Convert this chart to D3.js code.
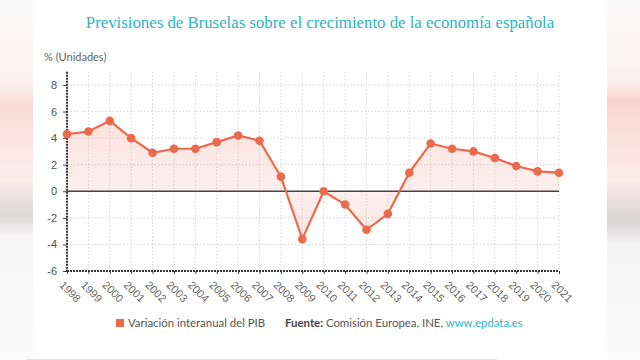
<!DOCTYPE html>
<html>
<head>
<meta charset="utf-8">
<script src="https://cdn.jsdelivr.net/npm/d3@7"></script>
<style>
  body { margin: 0; background: #fff; }
  svg { display: block; font-family: Lato, "Open Sans", sans-serif; }
</style>
</head>
<body>
<svg width="640" height="360"></svg>
<script>
// data
var years = [1998, 1999, 2000, 2001, 2002, 2003, 2004, 2005, 2006, 2007, 2008, 2009,
             2010, 2011, 2012, 2013, 2014, 2015, 2016, 2017, 2018, 2019, 2020, 2021];
var pib = [4.3, 4.5, 5.3, 4.0, 2.9, 3.2, 3.2, 3.7, 4.2, 3.8, 1.1, -3.6,
           0.0, -1.0, -2.9, -1.7, 1.4, 3.6, 3.2, 3.0, 2.5, 1.9, 1.5, 1.4];
var yTicks = [-6, -4, -2, 0, 2, 4, 6, 8];

var data = years.map((y, i) => ({year: y, v: pib[i]}));

var svg = d3.select('svg');
var lineColor = '#ec6a4c';
var teal = '#2bb5c9';

// blurred side strips (video frame)
var defs = svg.append('defs');
function sideGrad(id, stops) {
  var g = defs.append('linearGradient').attr('id', id)
    .attr('x1', 0).attr('y1', 0).attr('x2', 0).attr('y2', 1);
  stops.forEach(s => g.append('stop').attr('offset', s[0]).attr('stop-color', s[1]));
}
sideGrad('gl', [[0, '#fbfbfb'], [0.22, '#fbf3f2'], [0.3, '#f9d9d3'], [0.36, '#fbe3df'],
  [0.5, '#fcedea'], [0.55, '#e9e0e0'], [0.6, '#dedada'], [0.66, '#f6f6f6'], [1, '#fbfbfb']]);
sideGrad('gr', [[0, '#fbfbfb'], [0.22, '#fbf1ef'], [0.28, '#f8d6d0'], [0.35, '#fadcd6'],
  [0.5, '#fcebe8'], [0.56, '#e8dddd'], [0.62, '#d9d6d6'], [0.68, '#f4f4f4'], [1, '#fbfbfb']]);
svg.append('rect').attr('x', 0).attr('y', 0).attr('width', 33).attr('height', 360).attr('fill', 'url(#gl)');
svg.append('rect').attr('x', 607).attr('y', 0).attr('width', 33).attr('height', 360).attr('fill', 'url(#gr)');
svg.append('line').attr('x1', 26).attr('x2', 497).attr('y1', 359.5).attr('y2', 359.5)
  .attr('stroke', '#e4e4e4').attr('stroke-width', 1);

// title
svg.append('text').attr('x', 320).attr('y', 28).attr('text-anchor', 'middle')
  .style('font-family', '"Liberation Serif", "DejaVu Serif", serif')
  .style('font-size', '16.8px').attr('fill', teal)
  .text('Previsiones de Bruselas sobre el crecimiento de la economía española');

svg.append('text').attr('x', 44).attr('y', 61)
  .style('font-size', '11px').attr('fill', '#666').text('% (Unidades)');

var x = d3.scalePoint().domain(years).range([67, 559]);
var y = d3.scaleLinear().domain([-6, 9]).range([271, 71.7]);

// grid
var grid = svg.append('g');
grid.selectAll('.vg').data(years.slice(1)).join('line')
  .attr('x1', d => x(d)).attr('x2', d => x(d)).attr('y1', y(9)).attr('y2', y(-6))
  .attr('stroke', '#d4d4d4').attr('stroke-dasharray', '1.5,2').attr('stroke-width', 1);
grid.selectAll('.hg').data(yTicks.filter(d => d !== 0 && d !== -6)).join('line')
  .attr('x1', x(1998)).attr('x2', x(2021)).attr('y1', d => y(d)).attr('y2', d => y(d))
  .attr('stroke', '#d4d4d4').attr('stroke-dasharray', '1.5,2').attr('stroke-width', 1);

// area between the line and zero
var ag = defs.append('linearGradient').attr('id', 'ag')
  .attr('gradientUnits', 'userSpaceOnUse')
  .attr('x1', 0).attr('y1', y(6)).attr('x2', 0).attr('y2', y(-4));
ag.append('stop').attr('offset', 0).attr('stop-color', '#f5a89a').attr('stop-opacity', 0.35);
ag.append('stop').attr('offset', 0.6).attr('stop-color', '#f5a89a').attr('stop-opacity', 0.18);
ag.append('stop').attr('offset', 1).attr('stop-color', '#f5a89a').attr('stop-opacity', 0.3);

svg.append('path').datum(data)
  .attr('d', d3.area().x(d => x(d.year)).y0(y(0)).y1(d => y(d.v)))
  .attr('fill', 'url(#ag)');

// axes
var yAxis = svg.append('g').attr('transform', 'translate(' + x(1998) + ',0)')
  .call(d3.axisLeft(y).tickValues(yTicks).tickFormat(d => String(d)).tickSize(4).tickPadding(6));
yAxis.select('.domain').remove();
yAxis.selectAll('.tick line').attr('stroke', '#444');
yAxis.selectAll('text').style('font-size', '11px').attr('fill', '#555');

var xAxis = svg.append('g').attr('transform', 'translate(0,' + y(-6) + ')')
  .call(d3.axisBottom(x).tickSize(3).tickPadding(4));
xAxis.select('.domain').remove();
xAxis.selectAll('.tick line').attr('stroke', '#444');
xAxis.selectAll('text').style('font-size', '11px').attr('fill', '#666')
  .attr('text-anchor', 'start').attr('dy', '0.35em')
  .attr('transform', 'translate(-1,7) rotate(45)');

// axis lines and zero line
svg.append('line').attr('x1', x(1998)).attr('x2', x(1998)).attr('y1', y(9)).attr('y2', y(-6))
  .attr('stroke', '#333').attr('stroke-width', 2).attr('stroke-dasharray', '2,1');
svg.append('line').attr('x1', x(1998)).attr('x2', x(2021)).attr('y1', y(-6)).attr('y2', y(-6))
  .attr('stroke', '#333').attr('stroke-width', 2).attr('stroke-dasharray', '2,1');
svg.append('line').attr('x1', x(1998)).attr('x2', x(2021)).attr('y1', y(0)).attr('y2', y(0))
  .attr('stroke', '#444').attr('stroke-width', 1.6);

// series
svg.append('path').datum(data)
  .attr('d', d3.line().x(d => x(d.year)).y(d => y(d.v)))
  .attr('fill', 'none').attr('stroke', lineColor).attr('stroke-width', 2.2);
svg.selectAll('.pt').data(data).join('circle')
  .attr('cx', d => x(d.year)).attr('cy', d => y(d.v)).attr('r', 4.3)
  .attr('fill', lineColor);

// legend / source
svg.append('rect').attr('x', 116).attr('y', 319).attr('width', 8).attr('height', 8).attr('fill', lineColor);
svg.append('text').attr('x', 128).attr('y', 327).style('font-size', '11.4px').attr('fill', '#555')
  .text('Variación interanual del PIB');
var src = svg.append('text').attr('x', 285).attr('y', 327).style('font-size', '11.4px').attr('fill', '#444');
src.append('tspan').style('font-weight', 'bold').text('Fuente: ');
src.append('tspan').attr('fill', '#555').text('Comisión Europea, INE, ');
src.append('tspan').attr('fill', teal).text('www.epdata.es');
</script>
</body>
</html>
